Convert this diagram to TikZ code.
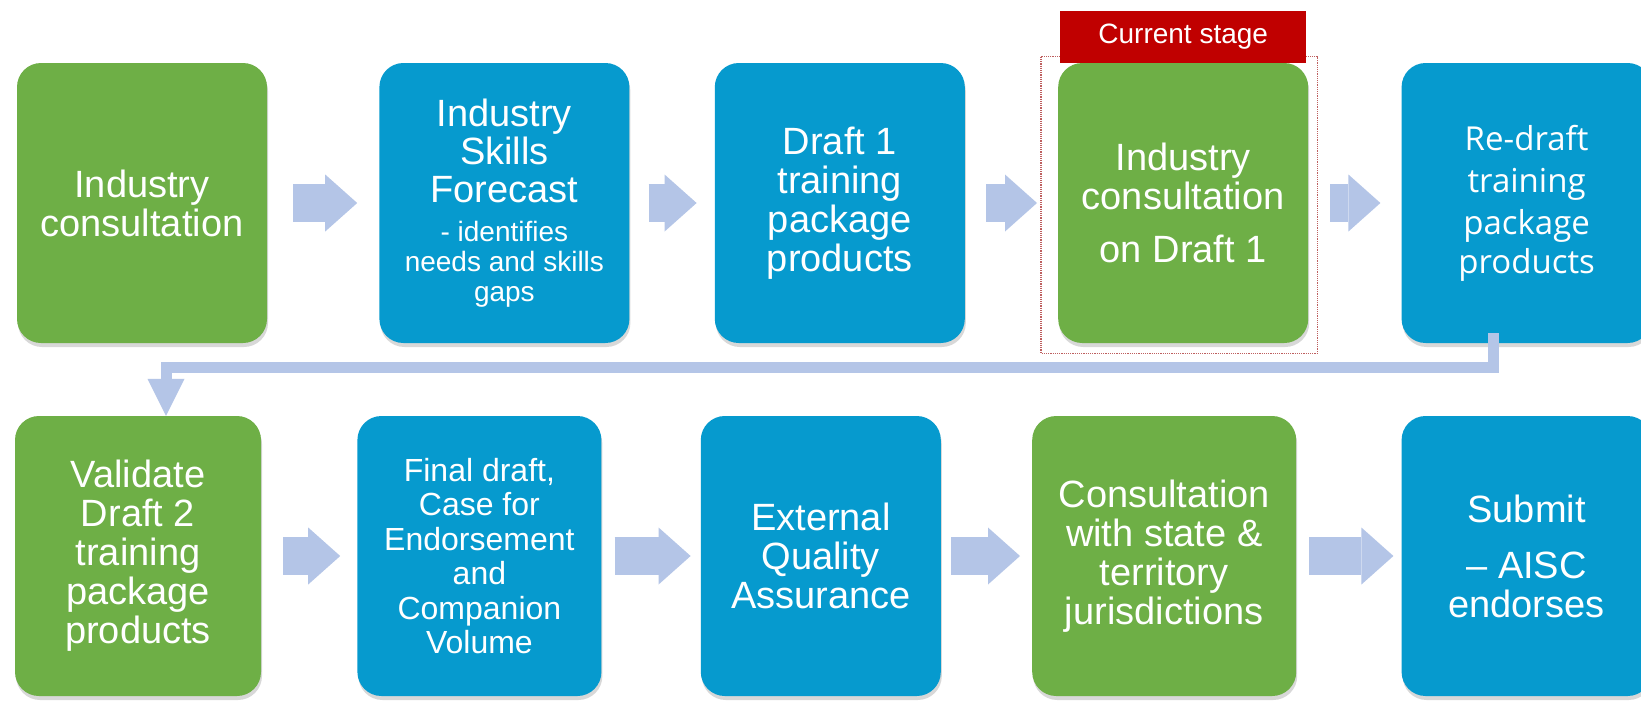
\documentclass[tikz,border=0pt]{standalone}
\usepackage{fontspec}
\setmainfont{Liberation Sans}
\newfontfamily\redraftfont{Open Sans}
\usetikzlibrary{positioning}
\usetikzlibrary{shadows}
\usetikzlibrary{arrows.meta}

\definecolor{stagegreen}{RGB}{110,175,70}
\definecolor{stageblue}{RGB}{6,154,206}
\definecolor{flowblue}{RGB}{180,197,231}
\definecolor{tagred}{RGB}{192,0,0}
\definecolor{framered}{RGB}{190,95,95}

\begin{document}
\begin{tikzpicture}[x=1pt,y=-1pt,
	stage node/.style={rectangle,rounded corners=24pt,minimum width=250pt,minimum height=280pt,
		text width=236pt,align=flush center,text=white,inner sep=0pt,
		font=\fontsize{38}{39}\selectfont,
		drop shadow={shadow xshift=1pt,shadow yshift=-4pt,opacity=.3}},
	green node/.style={stage node,fill=stagegreen},
	blue node/.style={stage node,fill=stageblue},
	flow/.style={draw=flowblue,line width=38pt,-{Triangle[width=57pt,length=32pt,line width=0pt]}},
	back/.style={draw=flowblue,line width=11pt,-{Triangle[width=37pt,length=37pt,line width=0pt]}},
	tag/.style={rectangle,fill=tagred,text=white,minimum width=246pt,minimum height=52pt,
		inner sep=0pt,font=\fontsize{28}{30}\selectfont},
	frame/.style={draw=framered,densely dotted,line width=1.2pt}]
	
	\useasboundingbox (0,0) rectangle (1641,716);
	\clip (0,0) rectangle (1641,716);
	\fill[white] (0,0) rectangle (1641,716);
	
	% first row
	\node[green node] (b1) at (142,203) {Industry\\consultation};
	\node[blue node] (b2) [right=112pt of b1] {{\fontsize{38}{38}\selectfont Industry\\Skills\\Forecast\par}\vspace{9pt}{\fontsize{28}{30}\selectfont - identifies\\needs and skills\\gaps\par}};
	\node[blue node] (b3) [right=85pt of b2] {Draft 1\\training\\package\\products};
	\node[green node] (b4) [right=93pt of b3] {Industry\\consultation\\[14pt]on Draft 1};
	\node[blue node] (b5) [right=93pt of b4] {\redraftfont\fontsize{33}{42}\selectfont Re-draft\\training\\package\\products};
	
	% second row
	\node[green node,minimum width=246pt] (b6) at (138,556) {Validate\\Draft 2\\training\\package\\products};
	\node[blue node,minimum width=244pt,font=\fontsize{32}{34.5}\selectfont] (b7) [right=96pt of b6] {Final draft,\\Case for\\Endorsement\\and\\Companion\\Volume};
	\node[blue node,minimum width=240pt] (b8) [right=99pt of b7] {External\\Quality\\Assurance};
	\node[green node,minimum width=264pt] (b9) [right=91pt of b8] {Consultation\\with state \&\\territory\\jurisdictions};
	\node[blue node] (b10) [right=105pt of b9] {Submit\\[17pt]\textendash{} AISC\\endorses};
	
	% current stage marker
	\draw[frame] ([xshift=-17pt,yshift=6pt]b4.north west) rectangle ([xshift=9pt,yshift=-10pt]b4.south east);
	\node[tag] (tag) [above=0pt of b4] {Current stage};
	
	\path
	(b1) edge [flow,shorten <=26pt,shorten >=22pt] (b2)
	(b2) edge [flow,shorten <=19pt,shorten >=18pt] (b3)
	(b3) edge [flow,shorten <=21pt,shorten >=21pt] (b4)
	(b4) edge [flow,shorten <=22pt,shorten >=21pt] (b5)
	(b6) edge [flow,shorten <=22pt,shorten >=17pt] (b7)
	(b7) edge [flow,shorten <=13pt,shorten >=10pt] (b8)
	(b8) edge [flow,shorten <=10pt,shorten >=12pt] (b9)
	(b9) edge [flow,shorten <=13pt,shorten >=8pt] (b10);
	
	\coordinate (turn) at (166,367);
	\draw[back] ([xshift=-33pt,yshift=10pt]b5.south) |- (turn) -- ([xshift=28pt]b6.north);
\end{tikzpicture}
\end{document}
